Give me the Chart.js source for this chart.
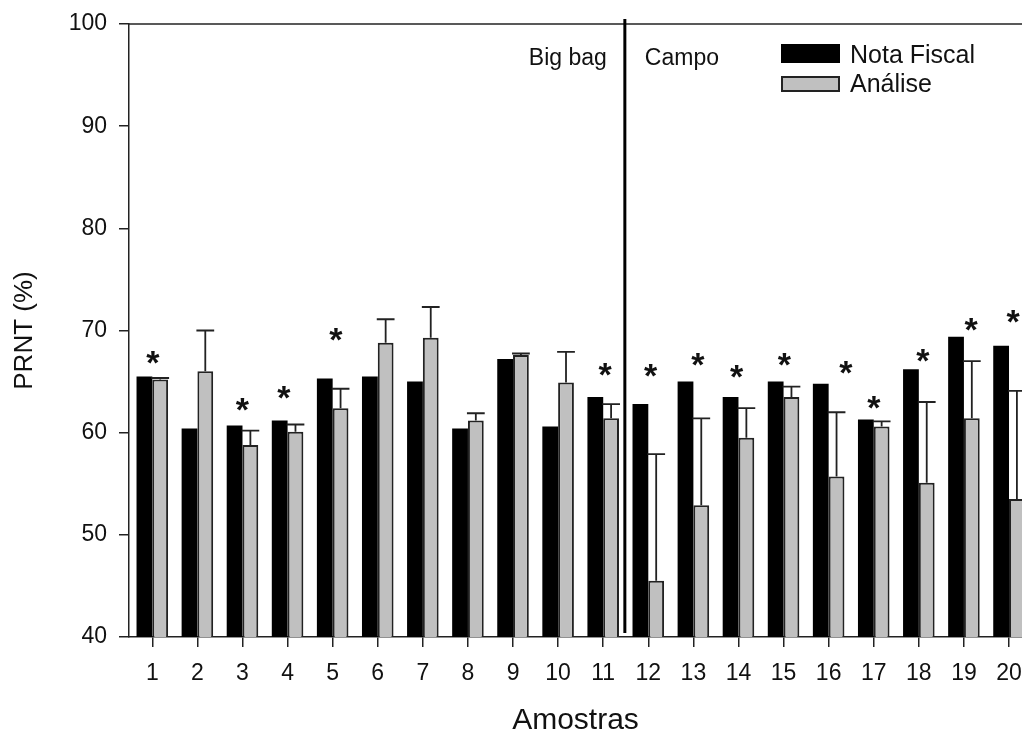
<!DOCTYPE html>
<html>
<head>
<meta charset="utf-8">
<script src="https://cdn.jsdelivr.net/npm/chart.js@4.4.1/dist/chart.umd.min.js"></script>
<style>
  html, body { margin: 0; padding: 0; background: #fff; overflow: hidden; }
  #grafico { display: block; }
</style>
</head>
<body>
<canvas id="grafico" width="1022" height="736"></canvas>
<script>
// dados
const amostras = [1, 2, 3, 4, 5, 6, 7, 8, 9, 10, 11, 12, 13, 14, 15, 16, 17, 18, 19, 20];
const notaFiscal = [65.5, 60.4, 60.7, 61.2, 65.3, 65.5, 65.0, 60.4, 67.2, 60.6, 63.5, 62.8, 65.0, 63.5, 65.0, 64.8, 61.3, 66.2, 69.4, 68.5];
const analise = [65.2, 66.0, 58.8, 60.1, 62.4, 68.8, 69.3, 61.2, 67.6, 64.9, 61.4, 45.5, 52.9, 59.5, 63.5, 55.7, 60.6, 55.1, 61.4, 53.5];
const erroAnalise = [0.15, 4.0, 1.4, 0.7, 1.9, 2.3, 3.0, 0.7, 0.15, 3.0, 1.4, 12.4, 8.5, 2.9, 1.0, 6.3, 0.5, 7.9, 5.6, 10.6];
// asteriscos (diferença significativa)
const estrelaX = [1.01, 3.0, 3.92, 5.07, 11.04, 12.05, 13.1, 13.96, 15.02, 16.38, 17.0, 18.09, 19.16, 20.09];
const estrelaY = [67.4, 62.8, 63.9, 69.6, 66.2, 66.1, 67.2, 66.0, 67.2, 66.4, 63.0, 67.6, 70.6, 71.4];
const yTicks = [40, 50, 60, 70, 80, 90, 100];
const divisa = 11.48; // separa Big bag de Campo

const FONTE = "'Liberation Sans', Arial, sans-serif";
const COR = '#111';

const extras = {
    id: 'extras',
    afterDatasetsDraw(chart) {
        const { ctx, chartArea: a, scales: { x, y } } = chart;
        ctx.save();

        // barras de erro (só para cima)
        ctx.strokeStyle = '#222';
        ctx.lineWidth = 1.8;
        chart.getDatasetMeta(1).data.forEach((bar, i) => {
            const topo = y.getPixelForValue(analise[i] + erroAnalise[i]);
            const meio = bar.width / 2 + 1;
            ctx.beginPath();
            ctx.moveTo(bar.x, bar.y);
            ctx.lineTo(bar.x, topo);
            ctx.moveTo(bar.x - meio, topo);
            ctx.lineTo(bar.x + meio, topo);
            ctx.stroke();
        });

        // linha de cima
        ctx.lineWidth = 1.5;
        ctx.beginPath();
        ctx.moveTo(a.left, a.top);
        ctx.lineTo(a.right, a.top);
        ctx.stroke();

        // linha divisória
        const sx = x.getPixelForValue(divisa);
        ctx.strokeStyle = '#000';
        ctx.lineWidth = 3;
        ctx.beginPath();
        ctx.moveTo(sx, a.top - 5);
        ctx.lineTo(sx, y.getPixelForValue(40.4));
        ctx.stroke();

        ctx.fillStyle = COR;
        ctx.font = `23px ${FONTE}`;
        ctx.textBaseline = 'alphabetic';
        ctx.textAlign = 'right';
        ctx.fillText('Big bag', sx - 18, a.top + 41);
        ctx.textAlign = 'left';
        ctx.fillText('Campo', sx + 20, a.top + 41);

        // asteriscos
        ctx.font = `bold 34px ${FONTE}`;
        ctx.textAlign = 'center';
        const m = ctx.measureText('*');
        const ajuste = (m.actualBoundingBoxAscent - m.actualBoundingBoxDescent) / 2;
        estrelaX.forEach((ex, i) => {
            ctx.fillText('*', x.getPixelForValue(ex), y.getPixelForValue(estrelaY[i]) + ajuste);
        });

        // legenda
        const lx = a.right - 241;
        chart.data.datasets.forEach((ds, i) => {
            const ly = i === 0 ? a.top + 20 : a.top + 52;
            const h = i === 0 ? 19 : 16;
            ctx.fillStyle = ds.backgroundColor;
            ctx.fillRect(lx, ly, 59, h);
            if (ds.borderWidth) {
                ctx.strokeStyle = ds.borderColor;
                ctx.lineWidth = 2;
                ctx.strokeRect(lx + 1, ly + 1, 57, h - 2);
            }
            ctx.fillStyle = COR;
            ctx.font = `25px ${FONTE}`;
            ctx.textAlign = 'left';
            ctx.fillText(ds.label, lx + 69, ly + h);
        });

        ctx.restore();
    }
};

new Chart(document.getElementById('grafico'), {
    type: 'bar',
    data: {
        datasets: [
            {
                label: 'Nota Fiscal',
                data: amostras.map((a, i) => ({ x: a, y: notaFiscal[i] })),
                backgroundColor: '#000000',
                borderWidth: 0
            },
            {
                label: 'Análise',
                data: amostras.map((a, i) => ({ x: a, y: analise[i] })),
                backgroundColor: '#c0c0c0',
                borderColor: '#222222',
                borderWidth: 2
            }
        ]
    },
    options: {
        responsive: false,
        animation: false,
        devicePixelRatio: 1,
        events: [],
        categoryPercentage: 0.7,
        barPercentage: 1.0,
        layout: { padding: { top: 24, left: 0, right: 0, bottom: 0 } },
        plugins: {
            legend: { display: false },
            tooltip: { enabled: false }
        },
        scales: {
            x: {
                type: 'linear',
                min: 0.483,
                max: 20.288,
                offset: false,
                afterBuildTicks: s => { s.ticks = amostras.map(v => ({ value: v })); },
                afterFit: s => { s.height = 99; s.paddingLeft = 0; s.paddingRight = 0; },
                grid: { display: true, drawOnChartArea: false, drawTicks: true, tickLength: 10, color: '#222', lineWidth: 1.5, offset: false },
                border: { display: true, color: '#222', width: 1.5 },
                ticks: {
                    autoSkip: false,
                    maxRotation: 0,
                    padding: 13,
                    color: COR,
                    font: { family: FONTE, size: 23 },
                    callback: v => String(v)
                },
                title: { display: true, text: 'Amostras', color: COR, font: { family: FONTE, size: 30, lineHeight: 1 }, padding: 0 }
            },
            y: {
                min: 40,
                max: 100,
                afterBuildTicks: s => { s.ticks = yTicks.map(v => ({ value: v })); },
                afterFit: s => { s.width = 129; s.paddingTop = 0; s.paddingBottom = 0; },
                grid: { display: true, drawOnChartArea: false, drawTicks: true, tickLength: 10, color: '#222', lineWidth: 1.5 },
                border: { display: true, color: '#222', width: 1.5 },
                ticks: { padding: 12, color: COR, font: { family: FONTE, size: 23 } },
                title: { display: true, text: 'PRNT (%)', color: COR, font: { family: FONTE, size: 26, lineHeight: 1 }, padding: { top: 12, bottom: 0 } }
            }
        }
    },
    plugins: [extras]
});
</script>
</body>
</html>
